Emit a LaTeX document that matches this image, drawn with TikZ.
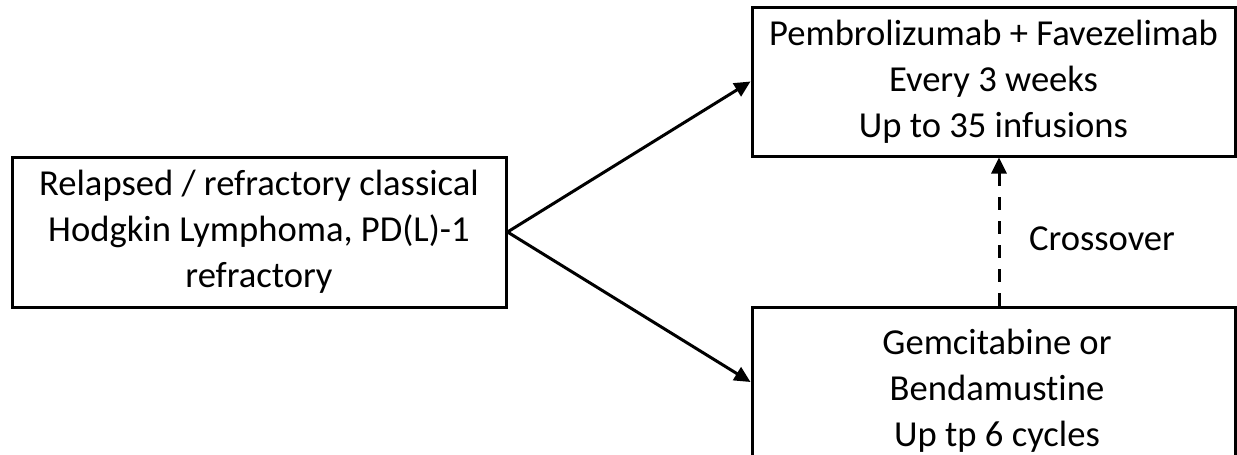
\documentclass[tikz,border=0pt]{standalone}
\usepackage{fontspec}
\setmainfont{Carlito}[Ligatures={NoCommon}]
\usetikzlibrary{arrows.meta}
\begin{document}
\begin{tikzpicture}[x=0.5pt,y=-0.5pt,
  box/.style={draw=black, line width=1.5pt, rectangle, inner sep=0pt,
    minimum width=241.5pt, minimum height=74.5pt, align=center,
    font=\fontsize{18.3}{23}\selectfont},
  txt/.style={align=center, inner sep=0pt, font=\fontsize{18.3}{23}\selectfont},
  conn/.style={line width=1.5pt, -{Triangle[length=8pt,width=7.5pt]}},
  dashconn/.style={conn, dash pattern=on 6.5pt off 5.5pt}]
\useasboundingbox (0,0) rectangle (1237,455);
\node[box, minimum width=247pt, minimum height=75pt] (src) at (259,232)
  {Relapsed / refractory classical\\Hodgkin Lymphoma, PD(L)-1\\refractory};
\node[box] (top) at (993.5,81.5)
  {Pembrolizumab + Favezelimab\\Every 3 weeks\\Up to 35 infusions};
\node[box, minimum height=75pt] (bot) at (993.5,382) {};
\node[txt] (bottxt) at (997,391) {Gemcitabine or\\Bendamustine\\Up tp 6 cycles};
\node[txt] (cross) at (1102,239) {Crossover};
\coordinate (cx) at (999,0);
\draw[conn] (src.east) -- (top.west);
\draw[conn] (src.east) -- (bot.west);
\draw[dashconn] (cx |- bot.north) -- (cx |- top.south);
\end{tikzpicture}
\end{document}
